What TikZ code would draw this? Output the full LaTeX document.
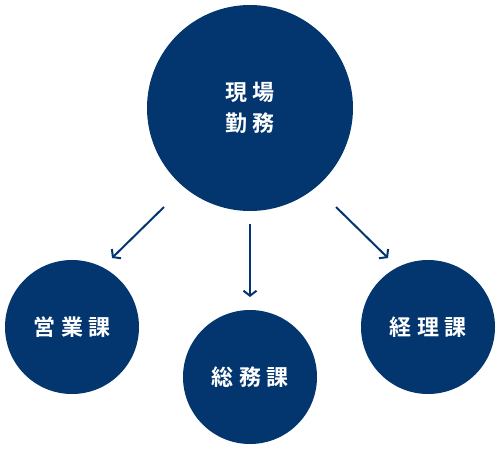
\documentclass[tikz,border=0pt]{standalone}
\usepackage{fontspec}
\newfontfamily\jpfont[LetterSpace=25]{Noto Sans CJK JP Bold}
\usetikzlibrary{arrows.meta,positioning}
\definecolor{navy}{RGB}{3,54,110}
\tikzset{main node/.style={circle,fill=navy,draw=none,minimum size=206pt,inner sep=0pt,text=white,font=\jpfont\fontsize{22pt}{31pt}\selectfont,align=center},
         sub node/.style={main node,minimum size=134pt},
         link/.style={navy,line width=2pt,-{Straight Barb[length=5pt,width=13pt,line width=2pt]}},
}
\begin{document}
\begin{tikzpicture}[x=1pt,y=-1pt]
\useasboundingbox (0,0) rectangle (500,450);
% circles
\node[main node] (top) at (250,108) {現場\\勤務};
\node[sub node] (a) at (72,327) {営業課};
\node[sub node] (b) at (250,377) {総務課};
\node[sub node] (c) at (428,327) {経理課};
% arrow ends
\coordinate (a1) at (164,207);
\coordinate (a2) at (112,258);
\coordinate (b1) at (250,224);
\coordinate (b2) at (250,297);
\coordinate (c1) at (336,207);
\coordinate (c2) at (388,258);
\draw[link] (a1) -- (a2);
\draw[link] (b1) -- (b2);
\draw[link] (c1) -- (c2);
\end{tikzpicture}
\end{document}
